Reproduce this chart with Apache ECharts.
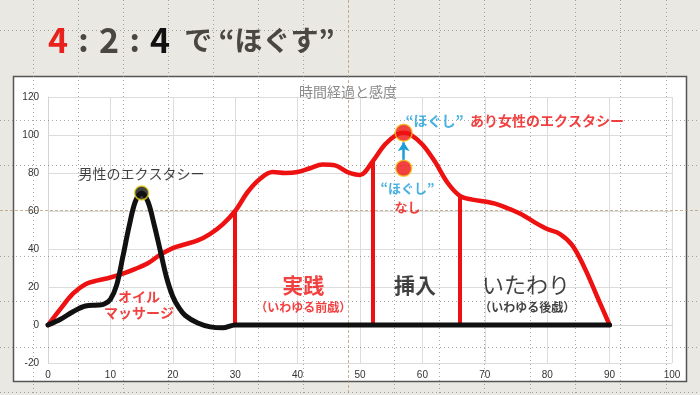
<!DOCTYPE html>
<html>
<head>
<meta charset="utf-8">
<script src="https://cdn.jsdelivr.net/npm/echarts@6/dist/echarts.min.js"></script>
<style>
html,body{margin:0;padding:0;background:#eae8e3;}
#c{width:700px;height:395px;}
</style>
</head>
<body>
<div id="c"></div>
<script>
// ---- data ----
const femaleX = [0,2,4,6,8,10,12,14,16,18,20,22,24,26,28,30,32,34,36,38,40,42,44,46,48,50,52,54,56,57,58,60,62,64,66,68,70,72,74,76,78,80,82,84,86,88,90];
const femaleY = [0,8.5,16.5,21.5,23.5,25,27,29.5,32.5,37,40.5,42.5,44.5,48,53,60,70,77,80.5,80,80.5,82.5,84.5,84,80.5,79,86,95,100.5,101.2,100.5,95,86,75,68,66,65,63.5,61,58,54,50.5,48,42,30,15,0];
const maleX = [0,2,4,6,8,9,10,11,12,13,14,15,16,17,18,19,20,21,22,24,26,28,30,90];
const maleY = [0,3,7,10,10.5,11,13.5,21,36,52,65,69.5,65,53,39,25,15,9,5,1,-1,-1.5,0,0];
const dividerX = [30,52,66];
const malePeak = [15,69.5];
const femalePeak = [57,101.2];
const femaleNoLoosen = [57,82.5];
const xMin = 0, xMax = 100, xStep = 10;
const yMin = -20, yMax = 120, yStep = 20;

const titleText = '時間経過と感度';
const maleLabel = '男性のエクスタシー';

// ---- build ----
const JP = '"Noto Sans CJK JP", "Noto Sans", sans-serif';
const RED = '#ee1111';
const BLUE = '#1a9ed9';
const femaleData = femaleX.map((x,i)=>[x,femaleY[i]]);
const maleData = maleX.map((x,i)=>[x,maleY[i]]);
const dividerLines = dividerX.map(x=>({coords:[[x,0],[x,femaleY[femaleX.indexOf(x)]]]}));

function ann(x,y,fmt,rich,align){
  return {value:[x,y], label:{show:true, position:[0,0], align:align||'center', verticalAlign:'middle', formatter:fmt, rich:rich}};
}
const annotations = [
  ann(57.3,107.6,'{b|“ほぐし”}{r|  あり女性のエクスタシー}',{b:{color:BLUE,fontSize:14,fontWeight:'bold',fontFamily:JP},r:{color:RED,fontSize:14,fontWeight:'bold',fontFamily:JP}},'left'),
  ann(57.6,67.2,'{b|“ほぐし”}\n{r|なし}',{b:{color:BLUE,fontSize:13,fontWeight:'bold',fontFamily:JP,lineHeight:19,align:'center'},r:{color:RED,fontSize:13,fontWeight:'bold',fontFamily:JP,lineHeight:19,align:'center'}}),
  ann(14.6,10.5,'{a|オイル}\n{a|マッサージ}',{a:{color:RED,fontSize:14,fontWeight:'bold',fontFamily:JP,lineHeight:16,align:'center'}}),
  ann(40.9,21,'{a|実践}',{a:{color:RED,fontSize:21,fontWeight:'bold',fontFamily:JP}}),
  ann(40.9,9.5,'{a|（いわゆる前戯）}',{a:{color:RED,fontSize:12,fontWeight:'bold',fontFamily:JP}}),
  ann(58.8,21,'{a|挿入}',{a:{color:'#111',fontSize:21,fontWeight:'bold',fontFamily:JP}}),
  ann(76.6,21,'{a|いたわり}',{a:{color:'#111',fontSize:22,fontFamily:JP}}),
  ann(76.8,9.5,'{a|（いわゆる後戯）}',{a:{color:'#111',fontSize:12,fontWeight:'bold',fontFamily:JP}})
];

// slide guide lines (decorative)
const guideV = [33,78,123,168,213,258,303,348,394,439,484,530,575,620,666];
const guideH = [30,120,165,210,256,301,347,392];
const graphics = [
  {type:'rect', z:-10, shape:{x:13.5,y:76.5,width:673,height:305}, style:{fill:'#ffffff',stroke:'#555',lineWidth:1.5}}
];
guideV.forEach(x=>{
  const c = x===348;
  graphics.push({type:'line', z:1, silent:true, shape:{x1:x+0.5,y1:0,x2:x+0.5,y2:395}, style:{stroke:c?'#b39a7a':'#8a8a8a',lineWidth:1,lineDash:c?[3,2]:[1,3],opacity:0.75}});
});
guideH.forEach(y=>{
  const c = y===210;
  graphics.push({type:'line', z:1, silent:true, shape:{x1:0,y1:y+0.5,x2:700,y2:y+0.5}, style:{stroke:c?'#b39a7a':'#8a8a8a',lineWidth:1,lineDash:c?[3,2]:[1,3],opacity:0.75}});
});
graphics.push({type:'text', z:5, style:{x:348, y:92, text:titleText, textAlign:'center', textVerticalAlign:'middle', font:'14px '+JP, fill:'#8a8a8a'}});

const chart = echarts.init(document.getElementById('c'), null, {renderer:'canvas'});
chart.setOption({
  backgroundColor:'#eae8e3',
  animation:false,
  title:{
    text:'{r|4}{c|:}{g|2}{c|:}{k|4}{j|で “ほぐす”}',
    left:43, top:18,
    textStyle:{rich:{
      r:{color:'#e8211d',fontSize:34,fontWeight:'bold',fontFamily:JP},
      c:{color:'#4a4642',fontSize:32,fontWeight:'bold',fontFamily:JP,width:31,align:'center'},
      g:{color:'#4a4642',fontSize:34,fontWeight:'bold',fontFamily:JP},
      k:{color:'#111111',fontSize:34,fontWeight:'bold',fontFamily:JP},
      j:{color:'#4a4642',fontSize:28,fontWeight:'bold',fontFamily:JP,padding:[0,0,0,14]}
    }}
  },
  graphic:graphics,
  grid:{left:48,right:28,top:97,bottom:32,containLabel:false},
  xAxis:{type:'value',min:xMin,max:xMax,interval:xStep,
    axisLine:{onZero:true,lineStyle:{color:'#d4d4d4'}},
    axisTick:{show:false},
    axisLabel:{color:'#333',fontSize:10,fontFamily:'"Liberation Sans", Arial',margin:7},
    splitLine:{show:true,lineStyle:{color:'#dcdcdc'}}},
  yAxis:{type:'value',min:yMin,max:yMax,interval:yStep,
    axisLine:{show:true,lineStyle:{color:'#d4d4d4'}},
    axisTick:{show:false},
    axisLabel:{color:'#333',fontSize:10,fontFamily:'"Liberation Sans", Arial',margin:9},
    splitLine:{show:true,lineStyle:{color:'#dcdcdc'}}},
  series:[
    {type:'lines',coordinateSystem:'cartesian2d',z:3,silent:true,
      lineStyle:{color:RED,width:4,opacity:1},data:dividerLines},
    {type:'line',z:4,data:femaleData,smooth:0.35,symbol:'none',
      lineStyle:{color:RED,width:4.5,cap:'round',join:'round'}},
    {type:'line',z:5,data:maleData,smooth:0.35,symbol:'none',
      lineStyle:{color:'#111',width:5,cap:'round',join:'round'}},
    {type:'lines',coordinateSystem:'cartesian2d',z:6,silent:true,
      symbol:['none','arrow'],symbolSize:9,
      lineStyle:{color:BLUE,width:2.5,opacity:1},
      data:[{coords:[[femaleNoLoosen[0],femaleNoLoosen[1]+4],[femalePeak[0],femalePeak[1]-5]]}]},
    {type:'scatter',z:7,silent:true,
      data:[
        {value:malePeak,symbolSize:14,itemStyle:{color:'#111',borderColor:'#e6d21a',borderWidth:1.5},
          label:{show:true,position:'top',distance:5,formatter:maleLabel,color:'#111',fontSize:14,fontFamily:JP}},
        {value:femalePeak,symbolSize:17,itemStyle:{color:RED,borderColor:'#f2c81a',borderWidth:1.5}},
        {value:femaleNoLoosen,symbolSize:16,itemStyle:{color:RED,borderColor:'#f2c81a',borderWidth:1.5}}
      ]},
    {type:'scatter',z:8,silent:true,symbolSize:0,data:annotations}
  ]
});
</script>
</body>
</html>
